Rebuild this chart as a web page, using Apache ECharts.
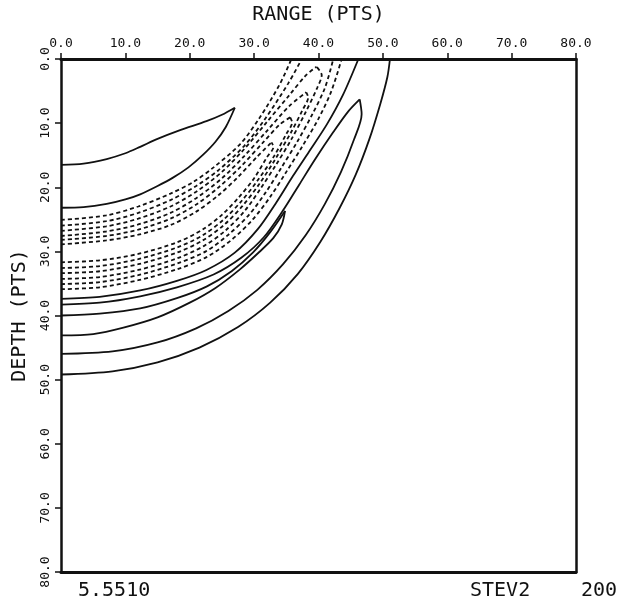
<!DOCTYPE html>
<html><head><meta charset="utf-8">
<script src="https://cdn.jsdelivr.net/npm/echarts@6/dist/echarts.min.js"></script>
<style>html,body{margin:0;padding:0;background:#fff}#c{width:628px;height:604px}</style>
</head><body><div id="c"></div>
<script>
// ---- data (range, depth in PTS) ----
var xTicks = [0, 10, 20, 30, 40, 50, 60, 70, 80];
var yTicks = [0, 10, 20, 30, 40, 50, 60, 70, 80];
var footLeft = "5.5510", footMid = "STEV2", footRight = "200";

var solidA_up = [[0,16.5],[3.5,16.3],[7.1,15.6],[10,14.7],[12.3,13.7],[14.9,12.5],[18.5,11.1],[22.6,9.7],[25,8.7],[27,7.6]];
var solidA_lo = [[0,23.2],[3.5,23.1],[7.1,22.6],[10,21.9],[12.3,21.1],[15,19.8],[17.4,18.5],[19.8,16.9],[22,15.0],[24,12.9],[25.6,10.6],[27,7.6]];

var dash0_up = [[0,25.1],[7,24.4],[12,23.0],[17,21.0],[20.5,19.2],[23.7,16.9],[27.8,13.3],[30.9,9.1],[34,3.9],[35.8,0]];
var dash0_lo = [[0,35.9],[6,35.6],[12,34.5],[18,32.8],[22.6,30.9],[26.5,28.2],[29.8,25],[32.5,21.5],[35,17.6],[37.5,13.6],[40,9.3],[42,5],[43.6,0]];
var dash1_up = [[0,26.0],[7,25.3],[12,24.0],[17,22.0],[21,19.8],[24.5,17.3],[28.5,13.5],[31.8,9.2],[35.3,3.8],[37.4,0]];
var dash1_lo = [[0,35.1],[6,34.8],[12,33.7],[18,31.9],[22.5,30],[26,27.4],[29.2,24.3],[31.8,20.8],[34.2,17],[36.7,12.9],[39,8.7],[41,4.5],[42.3,0]];
var dash2_up = [[0,26.8],[7,26.1],[12,24.9],[17,23.0],[21,20.7],[25,17.6],[28.5,14.0],[32,9.8],[35.5,5.6],[38,2.6],[39.7,1.2]];
var dash2_lo = [[0,34.3],[6,34.0],[12,32.9],[18,31.1],[22.3,29.1],[25.6,26.7],[28.6,23.6],[31,20.2],[33.4,16.5],[35.8,12.5],[38,8.3],[39.8,4.5],[40.5,2.5],[39.7,1.2]];
var dash3_up = [[0,27.6],[7,26.9],[12,25.8],[17,24],[21,21.7],[25,18.6],[28.5,15.1],[32,11.2],[35.5,7.3],[38.1,5.2]];
var dash3_lo = [[0,33.4],[6,33.1],[12,32.0],[18,30.2],[22,28.3],[25.3,25.9],[28.2,22.9],[30.8,19.5],[33.3,15.6],[35.7,11.5],[37.6,7.8],[38.4,6],[38.1,5.2]];
var dash4_up = [[0,28.2],[7,27.6],[12,26.6],[17,24.9],[21,22.7],[24.5,20],[28,16.7],[31.5,12.9],[34,10.2],[35.6,9.1]];
var dash4_lo = [[0,32.6],[6,32.3],[12,31.2],[18,29.4],[22,27.5],[25.2,25.1],[28,22.2],[30.5,19],[33,15.3],[35,11.7],[35.9,9.9],[35.6,9.1]];
var dash5_up = [[0,28.9],[7,28.3],[12,27.4],[17,25.9],[21,23.8],[24.5,21.2],[27.5,18.4],[30.5,15.2],[32.7,13.0]];
var dash5_lo = [[0,31.7],[6,31.4],[12,30.4],[18,28.6],[22,26.6],[25,24.3],[27.6,21.6],[30,18.6],[32,15.3],[33,13.7],[32.7,13.0]];

var solidB = [[0,37.4],[6,37.1],[12.3,36.1],[18,34.6],[22.6,32.9],[27,30.2],[30.6,26.5],[33.5,22.3],[36,18.3],[38.5,14.5],[41.3,10.2],[43.8,5.6],[46.2,0]];
var solidC_up = [[0,38.3],[6,38.0],[12.3,37.0],[18,35.6],[23.7,33.6],[28,31.0],[31.5,27.8],[34.5,23.6],[37,19.6],[39.5,15.6],[42.3,11.4],[44.6,8.2],[46.4,6.3]];
var solidC_lo = [[0,46.0],[8,45.6],[15,44.2],[21,42.0],[26,39.3],[30.5,36.0],[34.5,32.0],[38,27.5],[41,22.6],[43.5,17.6],[45.5,12.6],[46.7,8.6],[46.4,6.3]];
var solidD_up = [[0,40.0],[6,39.7],[12.3,38.9],[18,37.3],[22.6,35.5],[26.5,33.1],[29.8,30.2],[32.5,27.0],[34.8,23.7]];
var solidD_lo = [[0,43.1],[5,42.9],[9.7,41.9],[15,40.3],[20,38.0],[24,35.7],[27.8,32.8],[30.8,30.1],[33,27.9],[34.3,25.8],[34.8,23.7]];
var solidE = [[0,49.2],[8,48.7],[15,47.3],[21.5,45.0],[27.5,41.8],[32.5,38.0],[36.8,33.5],[40.3,28.5],[43.3,23.2],[45.8,18.0],[47.9,12.5],[49.6,7.0],[50.7,2.8],[51.1,0]];

var contours = [
  {d: solidA_up, dash: false}, {d: solidA_lo, dash: false},
  {d: dash0_up, dash: true}, {d: dash0_lo, dash: true},
  {d: dash1_up, dash: true}, {d: dash1_lo, dash: true},
  {d: dash2_up, dash: true}, {d: dash2_lo, dash: true},
  {d: dash3_up, dash: true}, {d: dash3_lo, dash: true},
  {d: dash4_up, dash: true}, {d: dash4_lo, dash: true},
  {d: dash5_up, dash: true}, {d: dash5_lo, dash: true},
  {d: solidB, dash: false},
  {d: solidC_up, dash: false}, {d: solidC_lo, dash: false},
  {d: solidD_up, dash: false}, {d: solidD_lo, dash: false},
  {d: solidE, dash: false}
];

var FONT = "DejaVu Sans Mono";
var chart = echarts.init(document.getElementById('c'), null, {renderer: 'canvas'});
var fmt = function (v) { return v.toFixed(1); };
var series = contours.map(function (c) {
  return {
    type: 'line', xAxisIndex: 0, yAxisIndex: 0, data: c.d, smooth: 0.3,
    showSymbol: false, silent: true, animation: false, clip: true,
    lineStyle: {color: '#111', width: 1.8, type: c.dash ? [4, 3] : 'solid'}
  };
});
chart.setOption({
  animation: false,
  backgroundColor: '#fff',
  grid: {left: 61, top: 58, width: 515, height: 514, containLabel: false},
  xAxis: [{
    type: 'value', position: 'top', min: 0, max: 80, interval: 10,
    name: 'RANGE (PTS)', nameLocation: 'middle', nameGap: 34,
    nameTextStyle: {fontFamily: FONT, fontSize: 20, color: '#111'},
    axisLine: {show: true, onZero: false, lineStyle: {color: '#111', width: 3}},
    axisTick: {show: true, inside: false, length: 6, lineStyle: {color: '#111', width: 1.5}},
    axisLabel: {formatter: fmt, margin: 9, fontFamily: FONT, fontSize: 13, color: '#111'},
    splitLine: {show: false}
  }, {
    type: 'value', position: 'bottom', min: 0, max: 80, interval: 10,
    axisLine: {show: true, onZero: false, lineStyle: {color: '#111', width: 3}},
    axisTick: {show: false}, axisLabel: {show: false}, splitLine: {show: false}
  }],
  yAxis: [{
    type: 'value', inverse: true, position: 'left', min: 0, max: 80, interval: 10,
    name: 'DEPTH (PTS)', nameLocation: 'middle', nameGap: 31, nameRotate: 90,
    nameTextStyle: {fontFamily: FONT, fontSize: 20, color: '#111'},
    axisLine: {show: true, onZero: false, lineStyle: {color: '#111', width: 2.5}},
    axisTick: {show: true, inside: false, length: 6, lineStyle: {color: '#111', width: 1.5}},
    axisLabel: {formatter: fmt, rotate: 90, margin: 9, fontFamily: FONT, fontSize: 13, color: '#111'},
    splitLine: {show: false}
  }, {
    type: 'value', inverse: true, position: 'right', min: 0, max: 80, interval: 10,
    axisLine: {show: true, onZero: false, lineStyle: {color: '#111', width: 2.5}},
    axisTick: {show: false}, axisLabel: {show: false}, splitLine: {show: false}
  }],
  graphic: [
    {type: 'text', left: 78, top: 581, style: {text: footLeft, font: '20px "DejaVu Sans Mono"', fill: '#111'}},
    {type: 'text', left: 470, top: 581, style: {text: footMid, font: '20px "DejaVu Sans Mono"', fill: '#111'}},
    {type: 'text', left: 581, top: 581, style: {text: footRight, font: '20px "DejaVu Sans Mono"', fill: '#111'}}
  ],
  series: series
});
</script></body></html>
